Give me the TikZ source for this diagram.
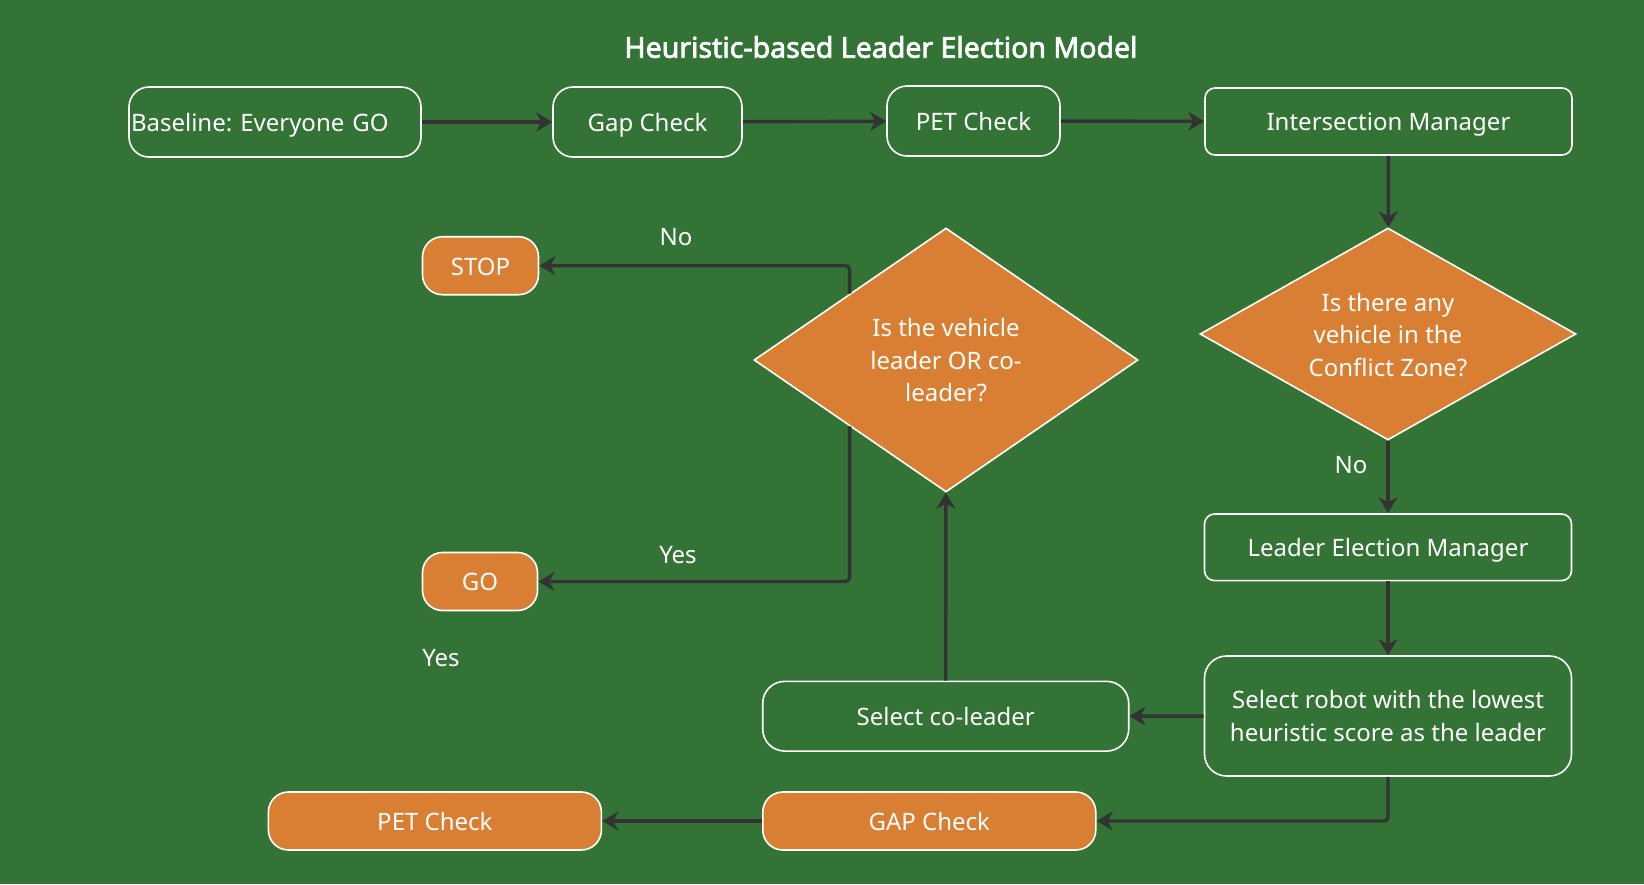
\documentclass[tikz,border=0pt]{standalone}
\usepackage{fontspec}
\setmainfont{Noto Sans}[AutoFakeBold=2.5]
\usetikzlibrary{arrows.meta, shapes, calc, positioning}
\definecolor{bggreen}{RGB}{52,115,54}
\definecolor{boxorange}{RGB}{217,127,51}
\definecolor{linegray}{RGB}{51,51,51}
\frenchspacing

\begin{document}
\begin{tikzpicture}[x=1pt,y=-1pt]

\tikzset{
  % outlined process box
  procbox/.style={draw=white, line width=1.6pt, rounded corners=#1, text=white,
    align=center, inner sep=0pt, font=\fontsize{24}{32.6}\selectfont},
  procbox/.default=20pt,
  % orange box
  termbox/.style={procbox=20pt, fill=boxorange},
  % one line of text, centred on its capitals
  oneline/.style={text height=18.6pt, text depth=0pt},
  % several lines: height of the whole block
  multiline/.style={text height=#1},
  % decision diamond
  decision/.style={diamond, draw=white, line width=1.6pt, fill=boxorange, text=white,
    align=center, inner sep=0pt, font=\fontsize{24}{32.6}\selectfont},
  % connector with arrow head
  flow/.style={draw=linegray, line width=3.4pt, rounded corners=4pt,
    -{Stealth[length=16pt,width=19pt,inset=5pt]}},
  lbl/.style={text=white, font=\fontsize{24}{29}\selectfont},
}

\fill[bggreen] (0,0) rectangle (1644,884);
\useasboundingbox (0,0) rectangle (1644,884);

\node (title) [text=white, font=\fontsize{28.5}{32}\selectfont\bfseries] at (881,47)
  {Heuristic-based Leader Election Model};

% top row
\node (base) [procbox, oneline, minimum height=70pt, text width=288pt, align=left, inner xsep=2pt] at (275,122)
  {Baseline: Everyone GO};
\node (gap) [procbox, oneline, minimum width=189pt, minimum height=70pt] at (647.5,122) {Gap Check};
\node (pet) [procbox, oneline, minimum width=173pt, minimum height=70pt] at (973.5,121) {PET Check};
\node (im) [procbox=10pt, oneline, minimum width=367pt, minimum height=67pt] at (1388.5,121.5)
  {Intersection Manager};

% decisions
\node (dz) [decision, multiline=85.4pt, minimum width=376pt, minimum height=212pt, aspect=1.77] at (1388,334)
  {Is there any\\vehicle in the\\Conflict Zone?};
\node (dl) [decision, multiline=84pt, minimum width=384pt, minimum height=264pt, aspect=1.46] at (946,360)
  {Is the vehicle\\leader OR co-\\leader?};

\node (stop) [termbox, oneline, minimum width=116pt, minimum height=58pt] at (480.5,265.7) {STOP};
\node (go) [termbox, oneline, minimum width=115pt, minimum height=58pt] at (480,581.5) {GO};

% right column and bottom
\node (lem) [procbox=10pt, oneline, minimum width=367pt, minimum height=66.6pt] at (1388,547.3)
  {Leader Election Manager};
\node (sel) [procbox=22pt, multiline=51.4pt, minimum width=367pt, minimum height=120pt] at (1388,716)
  {Select robot with the lowest\\heuristic score as the leader};
\node (col) [procbox=22pt, oneline, minimum width=366pt, minimum height=69.7pt] at (945.7,716.2)
  {Select co-leader};
\node (gapc) [termbox, oneline, minimum width=333pt, minimum height=58pt] at (929.3,821) {GAP Check};
\node (petc) [termbox, oneline, minimum width=333pt, minimum height=58pt] at (434.9,821) {PET Check};

% labels
\node (no1) [lbl] at (676,237) {No};
\node (yes1) [lbl] at (678,555) {Yes};
\node (yes2) [lbl] at (441,658) {Yes};
\node (no2) [lbl] at (1351,465) {No};

\draw[flow] (base) -- (gap);
\draw[flow] (gap) -- (pet);
\draw[flow] (pet) -- (im);
\draw[flow] (im) -- (dz);
\draw[flow] (dz) -- (lem);
\draw[flow] (lem) -- (sel);
\draw[flow] (sel) -- (col);
\draw[flow] (col) -- (dl);
\draw[flow] (sel.south) |- (gapc.east);
\draw[flow] (gapc) -- (petc);
\draw[flow] ($(dl.west)!0.5!(dl.north)$) |- (stop);
\draw[flow] ($(dl.west)!0.5!(dl.south)$) |- (go);

\end{tikzpicture}
\end{document}
